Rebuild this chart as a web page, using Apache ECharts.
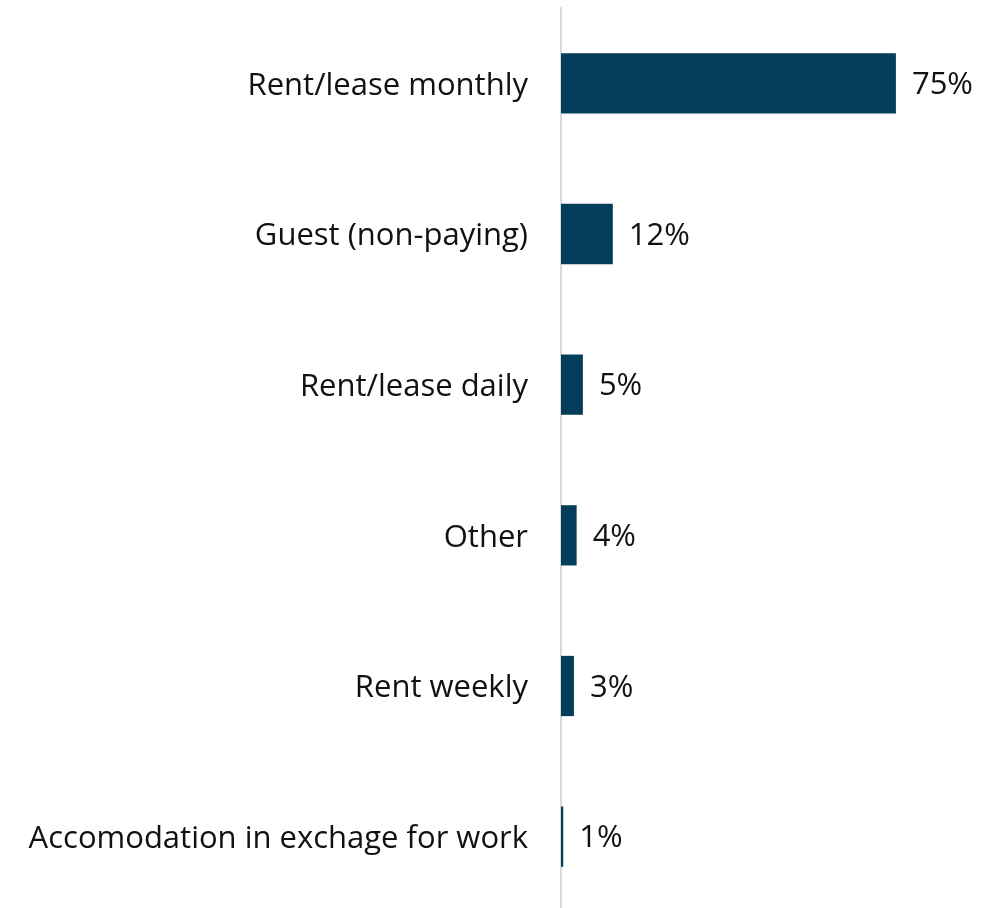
<!DOCTYPE html>
<html>
<head>
<meta charset="utf-8">
<script src="https://cdn.jsdelivr.net/npm/echarts@6/dist/echarts.min.js"></script>
<style>
html,body{margin:0;padding:0;background:#fff;}
#chart{width:987px;height:908px;}
</style>
</head>
<body>
<div id="chart"></div>
<script>
const categories = ["Rent/lease monthly","Guest (non-paying)","Rent/lease daily","Other","Rent weekly","Accomodation in exchage for work"];
const values = [75, 11.6, 4.9, 3.5, 2.9, 0.5];
const valueLabels = ["75%","12%","5%","4%","3%","1%"];

const chart = echarts.init(document.getElementById('chart'));
chart.setOption({
  animation: false,
  grid: {left: 561, top: 8, right: 0, height: 904, containLabel: false, outerBoundsMode: 'none'},
  xAxis: {type: 'value', min: 0, max: 95.4, show: false},
  yAxis: {
    type: 'category', data: categories, inverse: true,
    axisLine: {show: true, lineStyle: {color: '#d9d9d9', width: 2}},
    axisTick: {show: false},
    axisLabel: {
      margin: 33,
      formatter: v => '{t|' + v + '}',
      rich: {t: {color: '#111', fontFamily: 'Open Sans', fontSize: 31, padding: [5, 0, 0, 0]}}
    }
  },
  series: [{
    type: 'bar', data: values, barWidth: '40%',
    itemStyle: {color: '#033d5a'},
    label: {show: true, position: 'right', distance: 16, offset: [0, 2], color: '#111', fontFamily: 'Open Sans', fontSize: 31,
      formatter: p => valueLabels[p.dataIndex]}
  }]
});
</script>
</body>
</html>
